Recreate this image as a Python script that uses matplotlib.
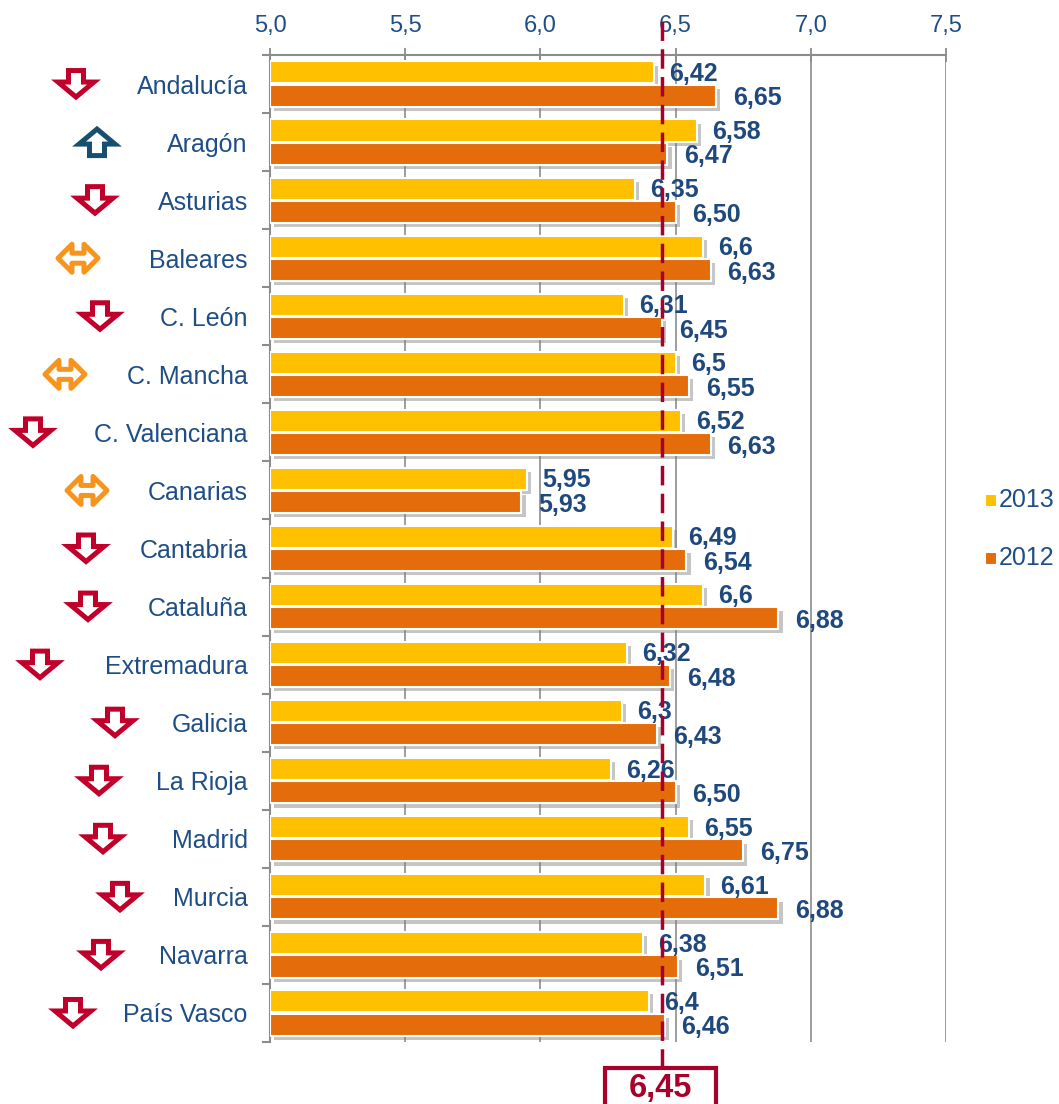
import matplotlib
matplotlib.use("Agg")
import matplotlib.pyplot as plt
from matplotlib.patches import Polygon, Rectangle
from matplotlib.lines import Line2D
import matplotlib.patheffects as pe
import matplotlib.transforms as mtransforms
import numpy as np

plt.rcParams['font.family'] = ['Liberation Sans', 'DejaVu Sans']
plt.rcParams['lines.scale_dashes'] = False

# ---------------- data ----------------
regions = ["Andalucía", "Aragón", "Asturias", "Baleares", "C. León", "C. Mancha",
           "C. Valenciana", "Canarias", "Cantabria", "Cataluña", "Extremadura",
           "Galicia", "La Rioja", "Madrid", "Murcia", "Navarra", "País Vasco"]
v2013 = [6.42, 6.58, 6.35, 6.6, 6.31, 6.5, 6.52, 5.95, 6.49, 6.6, 6.32, 6.3, 6.26,
         6.55, 6.61, 6.38, 6.4]
v2012 = [6.65, 6.47, 6.50, 6.63, 6.45, 6.55, 6.63, 5.93, 6.54, 6.88, 6.48, 6.43,
         6.50, 6.75, 6.88, 6.51, 6.46]
lab2013 = ["6,42", "6,58", "6,35", "6,6", "6,31", "6,5", "6,52", "5,95", "6,49", "6,6",
           "6,32", "6,3", "6,26", "6,55", "6,61", "6,38", "6,4"]
lab2012 = ["6,65", "6,47", "6,50", "6,63", "6,45", "6,55", "6,63", "5,93", "6,54", "6,88",
           "6,48", "6,43", "6,50", "6,75", "6,88", "6,51", "6,46"]
trend = ["down", "up", "down", "equal", "down", "equal", "down", "equal", "down", "down",
         "down", "down", "down", "down", "down", "down", "down"]
mean_value = 6.45
mean_label = "6,45"
xticks = [5.0, 5.5, 6.0, 6.5, 7.0, 7.5]
xticklabels = ["5,0", "5,5", "6,0", "6,5", "7,0", "7,5"]
series_names = ["2013", "2012"]

# ---------------- layout ----------------
W, H = 1059, 1104
arrow_cx = [76, 97, 95, 78, 100, 65, 33, 87, 86, 88, 40, 115, 99, 103, 120, 101, 73]

c13 = "#FFC000"
c12 = "#E46C0A"
txt = "#1F4E86"
valc = "#1F497D"
red = "#A8002A"
grid = "#8C8C8C"

fig = plt.figure(figsize=(W / 100, H / 100), dpi=100)
ax_left, ax_right, ax_top, ax_bot = 270, 946, 55, 1042
ax = fig.add_axes([ax_left / W, 1 - ax_bot / H, (ax_right - ax_left) / W, (ax_bot - ax_top) / H])

n = len(regions)
y = np.arange(n)
shadow = [pe.SimplePatchShadow(offset=(3, -3), shadow_rgbFace="#808080", alpha=0.45), pe.Normal()]
b1 = ax.barh(y - 0.2, [v - 5.0 for v in v2013], left=5.0, height=0.38, color=c13,
             edgecolor="white", linewidth=1.5, zorder=3)
b2 = ax.barh(y + 0.2, [v - 5.0 for v in v2012], left=5.0, height=0.38, color=c12,
             edgecolor="white", linewidth=1.5, zorder=3)
for b in list(b1) + list(b2):
    b.set_path_effects(shadow)

for i in range(n):
    ax.annotate(lab2013[i], (v2013[i], y[i] - 0.2), xytext=(11, -1), textcoords="offset points",
                ha="left", va="center", fontsize=18, fontweight="bold", color=valc, zorder=5)
    ax.annotate(lab2012[i], (v2012[i], y[i] + 0.2), xytext=(12, -2), textcoords="offset points",
                ha="left", va="center", fontsize=18, fontweight="bold", color=valc, zorder=5)

ax.set_xlim(5.0, 7.5)
ax.set_ylim(n - 0.5, -0.5)
ax.xaxis.tick_top()
ax.set_xticks(xticks)
ax.set_xticklabels(xticklabels)
ax.tick_params(axis="x", direction="inout", length=10, width=1.3, color=grid, labelsize=17,
               labelcolor=txt, pad=8)
ax.set_yticks(y)
ax.set_yticklabels(regions)
ax.tick_params(axis="y", length=0, labelsize=18, labelcolor=txt, pad=16)
ax.set_yticks(np.arange(-0.5, n, 1.0), minor=True)
ax.tick_params(axis="y", which="minor", length=6, width=1.5, color=grid)
for s in ["right", "bottom"]:
    ax.spines[s].set_visible(False)
for s in ["top", "left"]:
    ax.spines[s].set_color(grid)
    ax.spines[s].set_linewidth(1.5)
ax.grid(axis="x", color=grid, linewidth=1.2, zorder=0)
ax.set_axisbelow(True)

# mean line
trans = mtransforms.blended_transform_factory(ax.transData, ax.transAxes)
ml = Line2D([mean_value, mean_value], [1.034, -0.026], transform=trans, color=red, lw=2.5,
            dashes=(14, 6), clip_on=False, zorder=6)
ax.add_line(ml)

# mean box
def fx(px):
    return px / W

def fy(py):
    return 1 - py / H

fig.add_artist(Rectangle((fx(605), fy(1115)), (716 - 605) / W, (1115 - 1068) / H,
                         transform=fig.transFigure, facecolor="white", edgecolor=red, lw=3))
fig.text(fx(660), fy(1089), mean_label, ha="center", va="center", fontsize=23.5,
         fontweight="bold", color=red)

# trend arrows
col_tr = {"down": "#C0002A", "up": "#17506E", "equal": "#F7941D"}
for i, t in enumerate(trend):
    cx = arrow_cx[i]
    cy = ax_top + (i + 0.5) * (ax_bot - ax_top) / n
    if t == "down":
        pts = [(cx - 7.5, cy - 13.5), (cx + 7.5, cy - 13.5), (cx + 7.5, cy - 2), (cx + 18, cy - 2),
               (cx, cy + 13), (cx - 18, cy - 2), (cx - 7.5, cy - 2)]
        js = "miter"
    elif t == "up":
        pts = [(cx - 7.5, cy + 13.5), (cx + 7.5, cy + 13.5), (cx + 7.5, cy + 2), (cx + 18, cy + 2),
               (cx, cy - 13), (cx - 18, cy + 2), (cx - 7.5, cy + 2)]
        js = "miter"
    else:
        pts = [(cx - 20, cy), (cx - 6, cy - 14), (cx - 6, cy - 5), (cx + 6, cy - 5),
               (cx + 6, cy - 14), (cx + 20, cy), (cx + 6, cy + 14), (cx + 6, cy + 5),
               (cx - 6, cy + 5), (cx - 6, cy + 14)]
        js = "round"
    poly = Polygon([(fx(a), fy(b)) for a, b in pts], closed=True, transform=fig.transFigure,
                   facecolor="white", edgecolor=col_tr[t], lw=3.6, joinstyle=js)
    fig.add_artist(poly)

# legend
for name, col, py in [(series_names[0], c13, 500), (series_names[1], c12, 558)]:
    fig.add_artist(Rectangle((fx(985), fy(py + 6)), 11 / W, 12 / H, transform=fig.transFigure,
                             facecolor=col, edgecolor="white", lw=0.8))
    fig.text(fx(999), fy(py), name, ha="left", va="center", fontsize=18, color=txt)

fig.savefig("out.png", dpi=100)
